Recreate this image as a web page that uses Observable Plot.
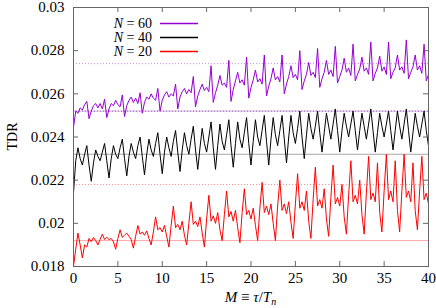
<!DOCTYPE html>
<html><head><meta charset="utf-8">
<script src="https://cdn.jsdelivr.net/npm/d3@7"></script>
<script src="https://cdn.jsdelivr.net/npm/@observablehq/plot@0.6"></script>
<style>body{margin:0;background:#fff}svg{display:block}svg text{font-family:'Liberation Serif',serif !important}</style>
</head><body><div id="chart"></div>
<script>
// Sampling step of M for all series
const mStep = 0.25;
const seriesN = [60, 40, 20];
const seriesColors = ["#9400d3", "#000000", "#ff0000"];
// Asymptotic limits per series (solid and dotted reference lines)
const limitSolid = [0.0252, 0.0232, 0.0192];
const limitDotted = [0.0274, 0.0252, 0.0218];
const xTicks = [0, 5, 10, 15, 20, 25, 30, 35, 40];
const yTicks = [0.018, 0.02, 0.022, 0.024, 0.026, 0.028, 0.03];

const tdr60 = [
.02445,.02520,.02510,.02535,.02525,.02550,.02565,.02485,
.02520,.02545,.02555,.02535,.02555,.02530,.02575,.02490,
.02530,.02555,.02545,.02570,.02550,.02540,.02595,.02495,
.02545,.02570,.02585,.02560,.02580,.02555,.02605,.02510,
.02560,.02585,.02575,.02600,.02580,.02570,.02625,.02520,
.02570,.02595,.02610,.02585,.02600,.02590,.02645,.02530,
.02585,.02610,.02625,.02600,.02620,.02605,.02680,.02540,
.02590,.02620,.02645,.02615,.02630,.02610,.02730,.02560,
.02605,.02640,.02685,.02640,.02650,.02630,.02755,.02565,
.02620,.02660,.02700,.02650,.02665,.02640,.02770,.02580,
.02630,.02665,.02710,.02655,.02670,.02645,.02780,.02590,
.02635,.02670,.02720,.02665,.02680,.02655,.02780,.02600,
.02645,.02680,.02730,.02675,.02690,.02665,.02800,.02620,
.02660,.02690,.02745,.02685,.02700,.02675,.02810,.02630,
.02670,.02700,.02755,.02690,.02710,.02680,.02820,.02650,
.02680,.02710,.02765,.02700,.02720,.02685,.02830,.02660,
.02690,.02715,.02770,.02705,.02720,.02690,.02840,.02660,
.02695,.02720,.02775,.02705,.02725,.02690,.02840,.02670,
.02700,.02720,.02780,.02710,.02725,.02695,.02850,.02670,
.02700,.02725,.02780,.02710,.02730,.02695,.02830,.02660,
.02690];

const tdr40 = [
.02140,.02290,.02350,.02300,.02270,.02320,.02360,.02270,
.02195,.02280,.02340,.02310,.02290,.02330,.02370,.02290,
.02210,.02300,.02360,.02320,.02300,.02350,.02390,.02300,
.02220,.02310,.02370,.02330,.02300,.02360,.02400,.02310,
.02225,.02320,.02390,.02340,.02310,.02370,.02420,.02320,
.02230,.02330,.02400,.02350,.02310,.02380,.02430,.02330,
.02240,.02340,.02420,.02360,.02320,.02390,.02450,.02340,
.02250,.02350,.02440,.02370,.02330,.02400,.02470,.02350,
.02250,.02360,.02460,.02380,.02340,.02410,.02480,.02360,
.02260,.02370,.02470,.02390,.02350,.02420,.02490,.02370,
.02270,.02380,.02480,.02400,.02360,.02430,.02500,.02380,
.02270,.02390,.02490,.02410,.02360,.02430,.02500,.02390,
.02280,.02400,.02500,.02420,.02370,.02440,.02520,.02400,
.02300,.02410,.02510,.02440,.02390,.02450,.02520,.02420,
.02330,.02420,.02510,.02450,.02390,.02460,.02530,.02430,
.02330,.02430,.02510,.02450,.02400,.02460,.02520,.02430,
.02340,.02430,.02510,.02450,.02390,.02460,.02530,.02430,
.02330,.02420,.02510,.02450,.02400,.02460,.02520,.02430,
.02340,.02430,.02520,.02450,.02390,.02460,.02530,.02430,
.02330,.02420,.02510,.02450,.02400,.02460,.02520,.02430,
.02360];

const tdr20 = [
.01800,.01880,.01955,.01900,.01840,.01900,.01890,.01930,
.01915,.01935,.01920,.01900,.01925,.01950,.01925,.01935,
.01925,.01930,.01915,.01880,.01930,.01970,.01935,.01945,
.01955,.01940,.01925,.01885,.01940,.01990,.01950,.01960,
.01945,.01965,.01930,.01900,.01960,.02030,.01970,.01980,
.01960,.01990,.01940,.01890,.01990,.02080,.01980,.01995,
.01970,.02010,.01945,.01900,.02000,.02100,.01995,.02010,
.01985,.02030,.01955,.01890,.02020,.02130,.02010,.02035,
.02000,.02050,.01970,.01920,.02040,.02150,.02030,.02055,
.02010,.02060,.01980,.01910,.02050,.02160,.02040,.02060,
.02020,.02070,.01990,.01920,.02070,.02190,.02050,.02080,
.02040,.02090,.02000,.01920,.02080,.02200,.02060,.02090,
.02045,.02100,.02005,.01930,.02090,.02230,.02070,.02100,
.02060,.02150,.02010,.01930,.02110,.02260,.02080,.02110,
.02070,.02160,.02020,.01940,.02120,.02270,.02090,.02120,
.02080,.02180,.02030,.01950,.02130,.02290,.02100,.02130,
.02090,.02200,.02040,.01950,.02140,.02310,.02110,.02140,
.02100,.02280,.02050,.01960,.02150,.02320,.02110,.02150,
.02100,.02290,.02060,.01960,.02150,.02320,.02120,.02150,
.02100,.02280,.02060,.01970,.02150,.02310,.02110,.02140,
.02090];

const allSeries = [tdr60, tdr40, tdr20];
const toRows = arr => arr.map((v, i) => ({M: i * mStep, tdr: v}));

const W = 436, H = 308, mL = 73, mR = 8, mT = 7, mB = 42;
const fw = W - mL - mR, fh = H - mT - mB, tk = 5;
const font = "'Liberation Serif', serif";

const plot = Plot.plot({
  width: W, height: H,
  marginLeft: mL, marginRight: mR, marginTop: mT, marginBottom: mB,
  style: {fontFamily: font, fontSize: "15px", background: "#fff", color: "#000", overflow: "visible"},
  x: {domain: [0, 40]},
  y: {domain: [0.018, 0.03]},
  marks: [
    ...limitSolid.map((v, s) => Plot.ruleY([v], {stroke: seriesColors[s], strokeOpacity: 0.35, strokeWidth: 1})),
    ...limitDotted.map((v, s) => Plot.ruleY([v], {stroke: seriesColors[s], strokeOpacity: 0.45, strokeWidth: 1, strokeDasharray: "1,2"})),
    ...allSeries.map((arr, s) => Plot.line(toRows(arr), {x: "M", y: "tdr", stroke: seriesColors[s], strokeWidth: 1})),
    Plot.tickY(yTicks, {y: d => d, insetRight: fw - tk, stroke: "#666"}),
    Plot.tickY(yTicks, {y: d => d, insetLeft: fw - tk, stroke: "#666"}),
    Plot.tickX(xTicks, {x: d => d, insetTop: fh - tk, stroke: "#666"}),
    Plot.tickX(xTicks, {x: d => d, insetBottom: fh - tk, stroke: "#666"}),
    Plot.frame({stroke: "#666"}),
    Plot.axisX({ticks: xTicks, tickSize: 0, tickPadding: 6, label: null, tickFormat: d => String(d)}),
    Plot.axisY({ticks: yTicks, tickSize: 0, tickPadding: 9, label: null, tickFormat: d => String(d)})
  ]
});
document.getElementById("chart").appendChild(plot);

const NS = "http://www.w3.org/2000/svg";
plot.setAttribute("font-family", font);
// Legend (plain DOM)
const lg = document.createElementNS(NS, "g");
plot.appendChild(lg);
seriesN.forEach((n, s) => {
  const y = 23.5 + s * 14;
  const t = document.createElementNS(NS, "text");
  t.setAttribute("x", 152); t.setAttribute("y", y); t.setAttribute("dy", "0.35em");
  t.setAttribute("text-anchor", "end"); t.setAttribute("font-size", 14); t.setAttribute("fill", "#000");
  const a = document.createElementNS(NS, "tspan"); a.setAttribute("font-style", "italic"); a.textContent = "N";
  const b = document.createElementNS(NS, "tspan"); b.textContent = " = " + n;
  t.appendChild(a); t.appendChild(b); lg.appendChild(t);
  const p = document.createElementNS(NS, "path");
  p.setAttribute("d", `M160,${y}H198`);
  p.setAttribute("stroke", seriesColors[s]);
  p.setAttribute("stroke-width", 1.4);
  p.setAttribute("fill", "none");
  lg.appendChild(p);
});
// X label
const svg = d3.select(plot);
const xl = svg.append("text").attr("font-size", 15)
  .attr("x", mL + fw / 2).attr("y", 302).attr("text-anchor", "middle");
xl.append("tspan").attr("font-style", "italic").text("M");
xl.append("tspan").text(" \u2261 ");
xl.append("tspan").attr("font-style", "italic").text("\u03c4");
xl.append("tspan").text("/");
xl.append("tspan").attr("font-style", "italic").text("T");
xl.append("tspan").attr("font-style", "italic").attr("font-size", 10).attr("dy", 3).text("n");
// Y label
svg.append("text").attr("font-size", 14)
  .attr("transform", `translate(17,${mT + fh / 2}) rotate(-90)`)
  .attr("text-anchor", "middle").text("TDR");
</script>
</body></html>
